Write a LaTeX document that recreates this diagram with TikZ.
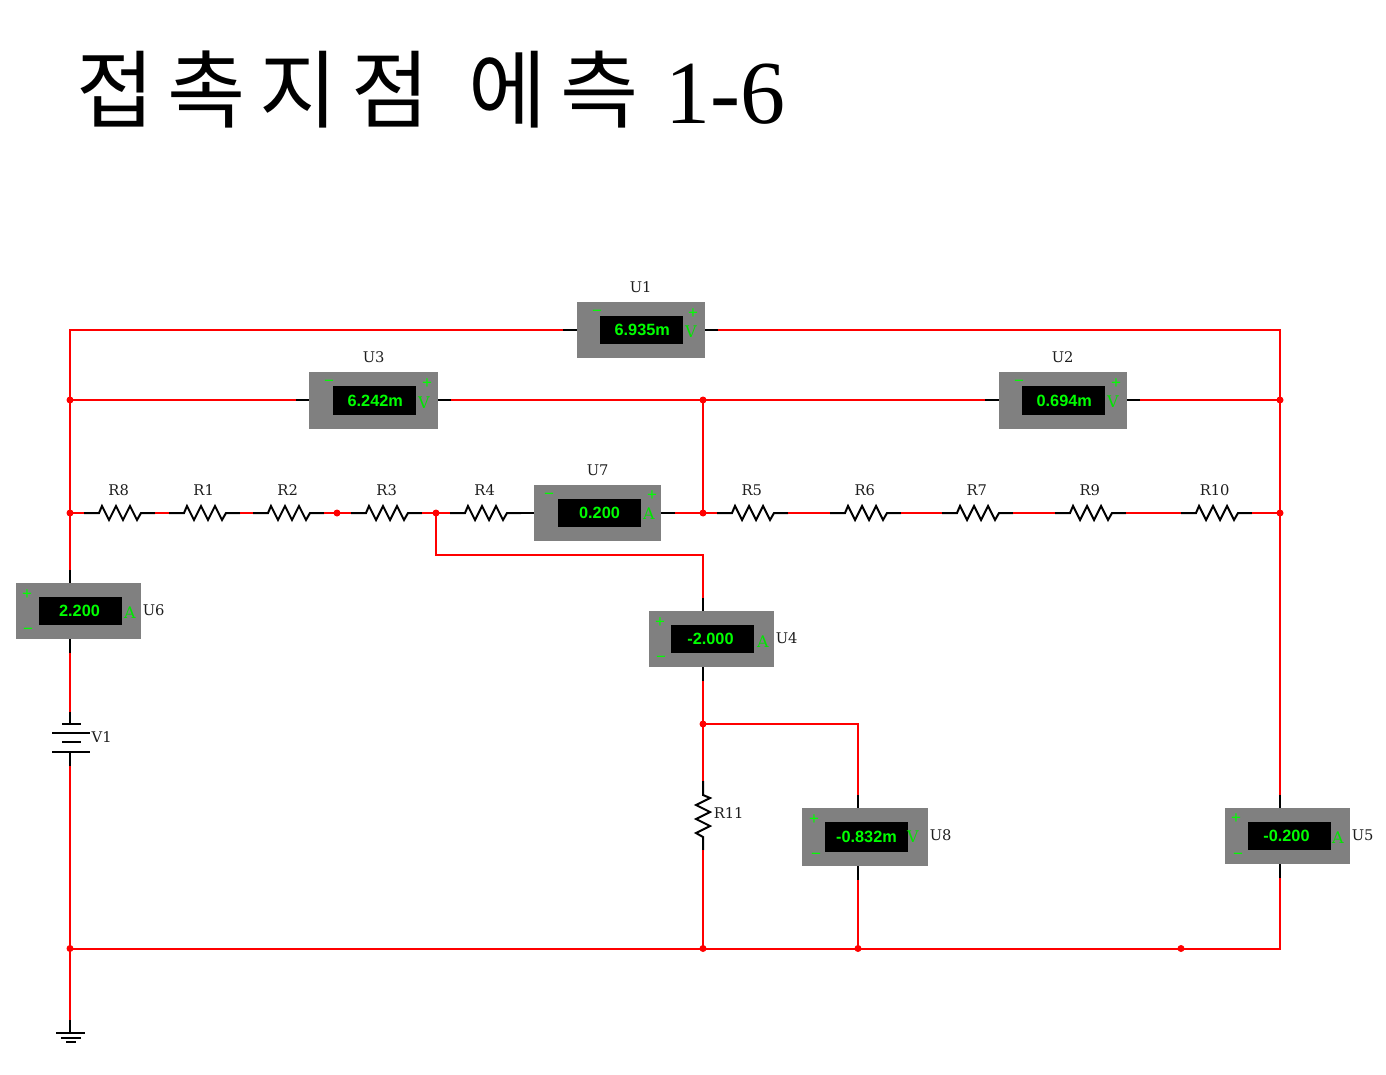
\documentclass[tikz,border=0pt]{standalone}
\usepackage{fontspec}
\setmainfont{DejaVu Serif}
\newfontfamily\krfont[LetterSpace=16]{Noto Sans CJK KR}
\newfontfamily\latnfont{Liberation Serif}
\newfontfamily\valfont{Liberation Sans}
\definecolor{wirered}{RGB}{255,0,0}
\definecolor{metergrey}{RGB}{128,128,128}
\definecolor{lcdgreen}{RGB}{0,255,0}
\definecolor{labelink}{RGB}{30,30,30}
\tikzset{
  wire/.style={draw=wirered,line width=2pt},
  pin/.style={draw=black,line width=2pt},
  junction/.style={circle,fill=wirered,inner sep=0pt,minimum size=7pt},
  meterbox/.style={fill=metergrey,inner sep=0pt},
  lcd/.style={fill=black,inner sep=0pt,text=lcdgreen,font=\valfont\bfseries\fontsize{16.3}{16.3}\selectfont},
  sign/.style={inner sep=0pt,text=lcdgreen,font=\valfont\fontsize{17}{17}\selectfont},
  unitmark/.style={inner sep=0pt,text=lcdgreen!90!black,font=\fontsize{16}{16}\selectfont},
  partlabel/.style={inner sep=0pt,xshift=0.7pt,text=labelink,font=\fontsize{14.7}{14.7}\selectfont},
}
% horizontal resistor on y=513: name, zigzag start x, label x
\newcommand{\hres}[3]{%
  \coordinate (#1a) at (#2-15,513);
  \coordinate (#1b) at (#2+56,513);
  \draw[pin] (#1a) -- ++(15,0) -- ++(3,-7) -- ++(7,14) -- ++(7,-14) -- ++(7,14) -- ++(7,-14) -- ++(7,14) -- ++(4,-7) -- (#1b);
  \node[partlabel] (#1) at (#3,490) {#1};
}
% meter: name, centre x, centre y, width, height, screen centre x, screen height, value
\newcommand{\meter}[8]{%
  \node[meterbox,minimum width=#4pt,minimum height=#5pt] (#1) at (#2,#3) {};
  \node[lcd,minimum width=83pt,minimum height=#7pt] (#1s) at (#6,#3) {\raisebox{-1pt}{#8}};
}
\begin{document}
\begin{tikzpicture}[x=1pt,y=-1pt]
\useasboundingbox (0,0) rectangle (1386,1075);
\node[anchor=base west,inner sep=0pt] (title) at (76,122) {{\krfont\fontsize{85}{85}\selectfont 접촉지점\hspace{6pt} 에측}\hspace{27pt}{\latnfont\fontsize{90}{90}\selectfont\raisebox{-2pt}{1-6}}};

% meters
\meter{U1}{641}{330}{128}{56}{641.5}{28}{\hspace*{1.5pt}6.935m}
\meter{U3}{373.5}{400.5}{129}{57}{374.5}{29}{\hspace*{1.5pt}6.242m}
\meter{U7}{597.5}{513}{127}{56}{599.5}{28}{0.200}
\meter{U2}{1063}{400.5}{128}{57}{1063.5}{29}{\hspace*{1.5pt}0.694m}
\meter{U6}{78.5}{611}{125}{56}{80}{28}{2.200\hspace*{1pt}}
\meter{U4}{711.5}{639}{125}{56}{712.5}{28}{-2.000\hspace*{4pt}}
\meter{U8}{865}{837}{126}{58}{866.5}{30}{-0.832m}
\meter{U5}{1287.5}{836}{125}{56}{1289}{28}{-0.200\hspace*{5pt}}

% meter marks
\node[sign] (U1m) at (597,313) {−}; \node[sign] (U1p) at (693,314) {+}; \node[unitmark] (U1u) at (691,332) {V};
\node[sign] (U3m) at (329,383) {−}; \node[sign] (U3p) at (427,384) {+}; \node[unitmark] (U3u) at (424,403) {V};
\node[sign] (U7m) at (549,496) {−}; \node[sign] (U7p) at (652,496) {+}; \node[unitmark] (U7u) at (649,514) {A};
\node[sign] (U2m) at (1019,383) {−}; \node[sign] (U2p) at (1116,384) {+}; \node[unitmark] (U2u) at (1113,402) {V};
\node[sign] (U6p) at (27,595) {+}; \node[sign] (U6m) at (28,631) {−}; \node[unitmark] (U6u) at (130,613) {A};
\node[sign] (U4p) at (660,623) {+}; \node[sign] (U4m) at (661,659) {−}; \node[unitmark] (U4u) at (763,642) {A};
\node[sign] (U8p) at (814,820) {+}; \node[sign] (U8m) at (816,856) {−}; \node[unitmark] (U8u) at (913,837) {V};
\node[sign] (U5p) at (1236,819) {+}; \node[sign] (U5m) at (1238,856) {−}; \node[unitmark] (U5u) at (1338,838) {A};

% part labels
\node[partlabel] (U1l) at (640,287) {U1};
\node[partlabel] (U3l) at (373,357) {U3};
\node[partlabel] (U7l) at (597,470) {U7};
\node[partlabel] (U2l) at (1062,357) {U2};
\node[partlabel] (U6l) at (153,610) {U6};
\node[partlabel] (U4l) at (786,638) {U4};
\node[partlabel] (U8l) at (940,835) {U8};
\node[partlabel] (U5l) at (1362,835) {U5};
\node[partlabel] (V1l) at (101,737) {V1};

% pin ends
\coordinate (U1L) at (563,330); \coordinate (U1R) at (718,330);
\coordinate (U3L) at (296,400); \coordinate (U3R) at (451,400);
\coordinate (U2L) at (985,400); \coordinate (U2R) at (1140,400);
\coordinate (U7R) at (675,513);
\coordinate (U6T) at (70,570); \coordinate (U6B) at (70,653);
\coordinate (U4T) at (703,598); \coordinate (U4B) at (703,681);
\coordinate (U8T) at (858,795); \coordinate (U8B) at (858,880);
\coordinate (U5T) at (1280,795); \coordinate (U5B) at (1280,878);
\coordinate (U1Lp) at (577,330); \coordinate (U1Rp) at (705,330);
\coordinate (U3Lp) at (309,400); \coordinate (U3Rp) at (438,400);
\coordinate (U2Lp) at (999,400); \coordinate (U2Rp) at (1127,400);
\coordinate (U7Lp) at (534,513); \coordinate (U7Rp) at (661,513);
\coordinate (U6Tp) at (70,583); \coordinate (U6Bp) at (70,639);
\coordinate (U4Tp) at (703,611); \coordinate (U4Bp) at (703,667);
\coordinate (U8Tp) at (858,808); \coordinate (U8Bp) at (858,866);
\coordinate (U5Tp) at (1280,808); \coordinate (U5Bp) at (1280,864);
\draw[pin] (U1L) -- (U1Lp); \draw[pin] (U1Rp) -- (U1R);
\draw[pin] (U3L) -- (U3Lp); \draw[pin] (U3Rp) -- (U3R);
\draw[pin] (U2L) -- (U2Lp); \draw[pin] (U2Rp) -- (U2R);
\draw[pin] (U7Rp) -- (U7R);
\draw[pin] (U6T) -- (U6Tp); \draw[pin] (U6Bp) -- (U6B);
\draw[pin] (U4T) -- (U4Tp); \draw[pin] (U4Bp) -- (U4B);
\draw[pin] (U8T) -- (U8Tp); \draw[pin] (U8Bp) -- (U8B);
\draw[pin] (U5T) -- (U5Tp); \draw[pin] (U5Bp) -- (U5B);

% resistors
\hres{R8}{99}{118}
\hres{R1}{184}{203}
\hres{R2}{268}{287}
\hres{R3}{366}{386}
\hres{R5}{732}{751}
\hres{R6}{845}{864}
\hres{R7}{957}{976}
\hres{R9}{1070}{1089}
\hres{R10}{1196}{1214}
\hres{R4}{465}{484}
\draw[pin] (R4b) -- (U7Lp);
\coordinate (R11a) at (703,781);
\coordinate (R11b) at (703,850);
\draw[pin] (R11a) -- ++(0,14) -- ++(7,3) -- ++(-14,7) -- ++(14,7) -- ++(-14,7) -- ++(14,7) -- ++(-14,7) -- ++(7,4) -- (R11b);
\node[partlabel] (R11) at (728,813) {R11};

% battery
\coordinate (V1T) at (70,712);
\coordinate (V1a) at (70,724);
\coordinate (V1d) at (70,752);
\coordinate (V1B) at (70,766);
\draw[pin] (V1T) -- (V1a);
\draw[pin] (62,724) -- (81,724);
\draw[pin] (52,733) -- (90,733);
\draw[pin] (62,742) -- (81,742);
\draw[pin] (52,752) -- (90,752);
\draw[pin] (V1d) -- (V1B);

% ground
\coordinate (GT) at (70,1020);
\coordinate (GB) at (70,1033);
\draw[pin] (GT) -- (GB);
\draw[pin] (56,1033) -- (85,1033);
\draw[pin] (61,1038) -- (81,1038);
\draw[pin] (66,1042) -- (76,1042);

% junctions
\node[junction] (J1) at (70,400) {};
\node[junction] (J2) at (703,400) {};
\node[junction] (J3) at (1280,400) {};
\node[junction] (J4) at (70,513) {};
\node[junction] (J5) at (703,513) {};
\node[junction] (J6) at (1280,513) {};
\node[junction] (J7) at (337,513) {};
\node[junction] (J8) at (436,513) {};
\node[junction] (J9) at (703,724) {};
\node[junction] (J10) at (70,948.5) {};
\node[junction] (J11) at (703,948.5) {};
\node[junction] (J12) at (858,948.5) {};
\node[junction] (J13) at (1181,948.5) {};

% corners
\coordinate (C1) at (70,330);
\coordinate (C2) at (1280,330);
\coordinate (C3) at (436,555);
\coordinate (C4) at (703,555);
\coordinate (C5) at (858,724);
\coordinate (C6) at (1280,948.5);

% wires
\draw[wire] (J1.center) -- (C1) -- (U1L);
\draw[wire] (U1R) -- (C2) -- (J3.center);
\draw[wire] (J1.center) -- (U3L);
\draw[wire] (U3R) -- (J2.center);
\draw[wire] (J2.center) -- (U2L);
\draw[wire] (U2R) -- (J3.center);
\draw[wire] (J1.center) -- (J4.center);
\draw[wire] (J4.center) -- (U6T);
\draw[wire] (U6B) -- (V1T);
\draw[wire] (V1B) -- (J10.center);
\draw[wire] (J10.center) -- (GT);
\draw[wire] (J2.center) -- (J5.center);
\draw[wire] (J3.center) -- (J6.center);
\draw[wire] (J6.center) -- (U5T);
\draw[wire] (J4.center) -- (R8a);
\draw[wire] (R8b) -- (R1a);
\draw[wire] (R1b) -- (R2a);
\draw[wire] (R2b) -- (J7.center);
\draw[wire] (J7.center) -- (R3a);
\draw[wire] (R3b) -- (J8.center);
\draw[wire] (J8.center) -- (R4a);
\draw[wire] (U7R) -- (J5.center);
\draw[wire] (J5.center) -- (R5a);
\draw[wire] (R5b) -- (R6a);
\draw[wire] (R6b) -- (R7a);
\draw[wire] (R7b) -- (R9a);
\draw[wire] (R9b) -- (R10a);
\draw[wire] (R10b) -- (J6.center);
\draw[wire] (J8.center) -- (C3) -- (C4) -- (U4T);
\draw[wire] (U4B) -- (J9.center);
\draw[wire] (J9.center) -- (R11a);
\draw[wire] (J9.center) -- (C5) -- (U8T);
\draw[wire] (R11b) -- (J11.center);
\draw[wire] (U8B) -- (J12.center);
\draw[wire] (U5B) -- (C6) -- (J13.center);
\draw[wire] (J13.center) -- (J12.center);
\draw[wire] (J12.center) -- (J11.center);
\draw[wire] (J11.center) -- (J10.center);
\end{tikzpicture}
\end{document}
